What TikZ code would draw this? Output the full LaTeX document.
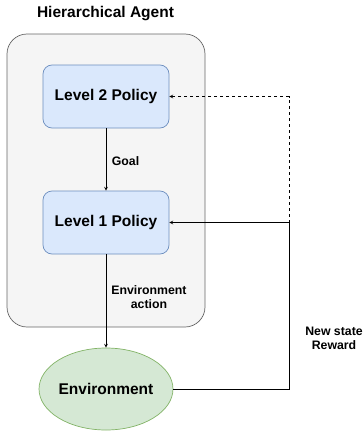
\documentclass[tikz,border=0pt]{standalone}
\usepackage{fontspec}
\setmainfont{Liberation Sans}
\usetikzlibrary{shapes.geometric}

\definecolor{agentfill}{HTML}{F5F5F5}
\definecolor{agentline}{HTML}{666666}
\definecolor{policyfill}{HTML}{DAE8FC}
\definecolor{policyline}{HTML}{6C8EBF}
\definecolor{envfill}{HTML}{D5E8D4}
\definecolor{envline}{HTML}{82B366}

\begin{document}
\begin{tikzpicture}
[
	x=1pt,y=-1pt,
	>=stealth,
	agentbox/.style={rectangle,rounded corners=20pt,draw=agentline,fill=agentfill,line width=0.7pt,minimum width=198pt,minimum height=293pt},
	policy/.style={rectangle,rounded corners=9pt,draw=policyline,fill=policyfill,line width=0.7pt,minimum width=126pt,minimum height=63pt,font=\bfseries\fontsize{15.5}{18}\selectfont},
	env/.style={ellipse,draw=envline,fill=envfill,line width=0.7pt,minimum width=126pt,minimum height=82pt,inner sep=0pt,font=\bfseries\fontsize{15.5}{18}\selectfont},
	lbl/.style={align=center,font=\bfseries\fontsize{12.3}{14.3}\selectfont},
	link/.style={line width=0.7pt}
]

	\useasboundingbox (0,0) rectangle (363,431);

	\node[agentbox] at (106,180.5) (agent) {};
	\node[font=\bfseries\fontsize{15.5}{18}\selectfont] at (105.5,14) (title) {Hierarchical Agent};

	\node[policy] at (106,96.5) (lvl2) {Level 2 Policy};
	\node[policy] at (106,222.5) (lvl1) {Level 1 Policy};
	\node[env] at (106,389) (env) {Environment};

	\coordinate (bend) at (289,389);

	% inside the agent
	\draw[link,->] (lvl2) -- (lvl1);
	\node[lbl] at (125.5,161) (goal) {Goal};

	\draw[link,->] (lvl1) -- (env);
	\node[lbl] at (149,297) (act) {Environment\\action};

	% feedback from the environment
	\draw[link,->] (env.east) -- (bend) |- (lvl1.east);
	\draw[link,dashed,->] (env.east) -- (bend) |- (lvl2.east);
	\node[lbl] at (334,338) (fb) {New state\\Reward};

\end{tikzpicture}
\end{document}
